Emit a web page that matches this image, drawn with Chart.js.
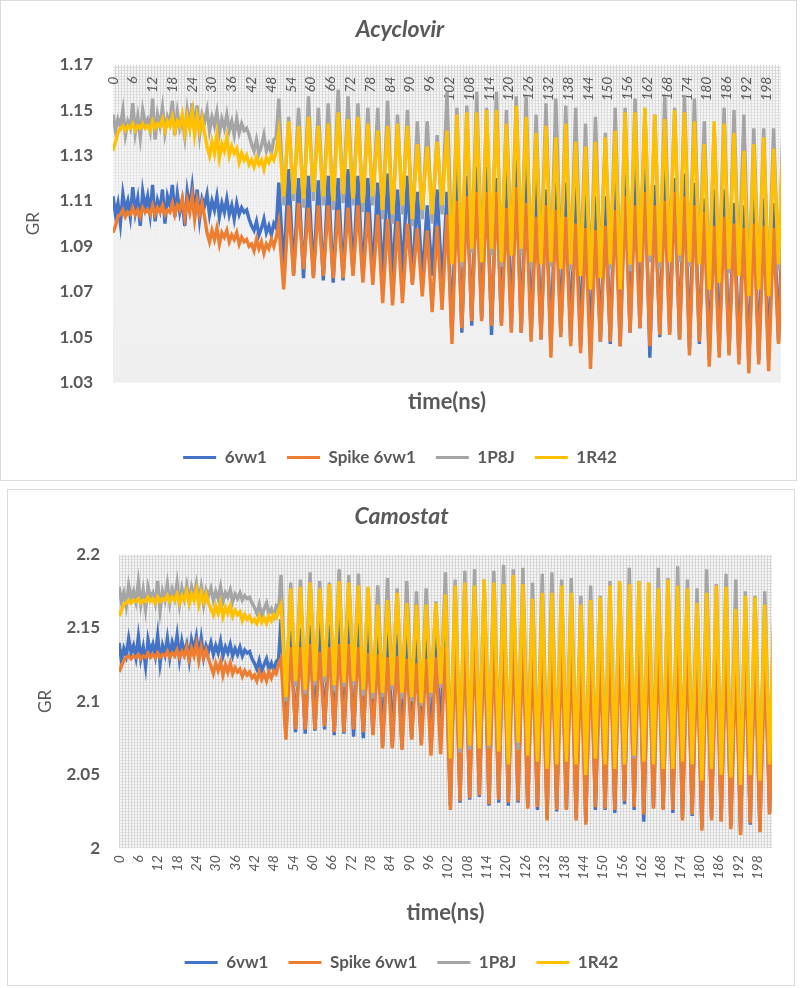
<!DOCTYPE html>
<html>
<head>
<meta charset="utf-8">
<script src="https://cdn.jsdelivr.net/npm/chart.js@4.4.1/dist/chart.umd.min.js"></script>
<style>
  html, body { margin: 0; padding: 0; background: #fff; }
  .box { position: absolute; border: 1px solid #d9dde1; background: #fff; }
  #box1 { left: 0; top: 0; width: 795px; height: 479px; }
  #box2 { left: 7px; top: 489px; width: 786px; height: 495px; }
  canvas { display: block; }
</style>
</head>
<body>
<div class="box" id="box1"><canvas id="acyclovir" width="795" height="479"></canvas></div>
<div class="box" id="box2"><canvas id="camostat" width="786" height="495"></canvas></div>
<script>
// time axis: every 0.75 ns up to 49.5 ns, then one value per peak / trough (1.5 ns apart)
const timeNs = [];
for (let t = 0; t <= 49.5; t += 0.75) timeNs.push(t);
for (let t = 50.25; t <= 203.25; t += 1.5) timeNs.push(t);

const seriesNames = ['6vw1', 'Spike 6vw1', '1P8J', '1R42'];
const seriesColors = ['#4472C4', '#ED7D31', '#A5A5A5', '#FFC000'];
const xTickLabels = [0, 6, 12, 18, 24, 30, 36, 42, 48, 54, 60, 66, 72, 78, 84, 90, 96, 102, 108, 114,
  120, 126, 132, 138, 144, 150, 156, 162, 168, 174, 180, 186, 192, 198];
const acyYTicks = [1.03, 1.05, 1.07, 1.09, 1.11, 1.13, 1.15, 1.17];
const camYTicks = [2, 2.05, 2.1, 2.15, 2.2];

// ---- Acyclovir ----
const acyBlue = [
  1.112, 1.104, 1.109, 1.100, 1.113, 1.106, 1.110, 1.103,
  1.116, 1.105, 1.111, 1.099, 1.114, 1.107, 1.112, 1.104,
  1.117, 1.101, 1.110, 1.106, 1.115, 1.100, 1.112, 1.108,
  1.117, 1.103, 1.113, 1.105, 1.110, 1.099, 1.114, 1.107,
  1.116, 1.104, 1.115, 1.102, 1.111, 1.108,
  1.113, 1.104, 1.110, 1.106, 1.112, 1.103, 1.109, 1.105, 1.111,
  1.104, 1.108, 1.102, 1.109, 1.104, 1.107, 1.105, 1.106, 1.102,
  1.099, 1.097, 1.101, 1.095, 1.098, 1.102, 1.096, 1.099, 1.095, 1.100, 1.098,
  1.118, 1.080, 1.124, 1.078, 1.120, 1.076, 1.121, 1.077, 1.119, 1.075, 1.121, 1.074, 1.120, 1.075, 1.124, 1.078,
  1.121, 1.076, 1.120, 1.077, 1.118, 1.075, 1.122, 1.076, 1.115, 1.078, 1.121, 1.074, 1.114, 1.075, 1.108, 1.077,
  1.115, 1.072,
  1.114, 1.050, 1.127, 1.052, 1.121, 1.055, 1.125, 1.058, 1.125, 1.051, 1.120, 1.056, 1.128, 1.054, 1.128, 1.052,
  1.125, 1.050, 1.120, 1.049, 1.115, 1.045, 1.121, 1.052, 1.118, 1.048, 1.124, 1.046, 1.117, 1.042, 1.112, 1.048,
  1.112, 1.047, 1.121, 1.046, 1.122, 1.052, 1.128, 1.054, 1.124, 1.041, 1.117, 1.050, 1.125, 1.052, 1.120, 1.049,
  1.122, 1.045, 1.118, 1.047, 1.111, 1.040, 1.115, 1.044, 1.115, 1.043, 1.109, 1.041, 1.108, 1.038, 1.112, 1.040,
  1.111, 1.040, 1.109, 1.048,
  1.118
];
const acyOrange = [
  1.096, 1.099, 1.103, 1.104, 1.106, 1.103, 1.105, 1.104,
  1.107, 1.104, 1.106, 1.103, 1.107, 1.105, 1.106, 1.104,
  1.108, 1.104, 1.107, 1.105, 1.108, 1.104, 1.106, 1.105,
  1.109, 1.104, 1.108, 1.106, 1.111, 1.103, 1.110, 1.105,
  1.112, 1.102, 1.110, 1.104, 1.109, 1.103,
  1.096, 1.092, 1.097, 1.093, 1.098, 1.091, 1.096, 1.094, 1.097,
  1.092, 1.095, 1.093, 1.096, 1.091, 1.094, 1.092, 1.093, 1.090,
  1.091, 1.088, 1.093, 1.089, 1.092, 1.087, 1.091, 1.089, 1.093, 1.090, 1.094,
  1.100, 1.071, 1.108, 1.077, 1.109, 1.080, 1.107, 1.076, 1.108, 1.077, 1.108, 1.076, 1.106, 1.076, 1.107, 1.077,
  1.108, 1.074, 1.105, 1.073, 1.104, 1.065, 1.102, 1.064, 1.101, 1.065, 1.100, 1.073, 1.098, 1.068, 1.097, 1.061,
  1.099, 1.062,
  1.104, 1.047, 1.110, 1.054, 1.112, 1.057, 1.114, 1.057, 1.114, 1.055, 1.114, 1.055, 1.107, 1.052, 1.116, 1.052,
  1.109, 1.048, 1.103, 1.049, 1.108, 1.041, 1.106, 1.050, 1.103, 1.046, 1.100, 1.043, 1.098, 1.036, 1.097, 1.048,
  1.099, 1.048, 1.106, 1.046, 1.112, 1.052, 1.108, 1.054, 1.114, 1.046, 1.108, 1.051, 1.110, 1.051, 1.114, 1.049,
  1.112, 1.042, 1.108, 1.048, 1.105, 1.037, 1.099, 1.041, 1.103, 1.042, 1.100, 1.038, 1.098, 1.034, 1.100, 1.038,
  1.099, 1.035, 1.098, 1.047,
  1.104
];
const acyGray = [
  1.148, 1.141, 1.146, 1.143, 1.150, 1.139, 1.145, 1.142,
  1.153, 1.140, 1.147, 1.138, 1.150, 1.144, 1.146, 1.141,
  1.155, 1.137, 1.148, 1.143, 1.151, 1.140, 1.147, 1.144,
  1.154, 1.139, 1.149, 1.142, 1.146, 1.138, 1.150, 1.143,
  1.153, 1.141, 1.152, 1.139, 1.148, 1.145,
  1.150, 1.141, 1.147, 1.143, 1.149, 1.140, 1.146, 1.142, 1.148,
  1.141, 1.145, 1.139, 1.146, 1.140, 1.144, 1.141, 1.142, 1.139,
  1.135, 1.132, 1.137, 1.131, 1.134, 1.139, 1.132, 1.135, 1.131, 1.137, 1.138,
  1.155, 1.108, 1.147, 1.110, 1.151, 1.107, 1.156, 1.110, 1.151, 1.108, 1.153, 1.106, 1.159, 1.109, 1.156, 1.108,
  1.153, 1.105, 1.151, 1.108, 1.151, 1.102, 1.154, 1.100, 1.148, 1.104, 1.150, 1.099, 1.145, 1.102, 1.145, 1.100,
  1.139, 1.104,
  1.158, 1.085, 1.151, 1.081, 1.152, 1.087, 1.158, 1.085, 1.151, 1.086, 1.158, 1.081, 1.150, 1.088, 1.156, 1.086,
  1.156, 1.080, 1.148, 1.084, 1.153, 1.081, 1.155, 1.083, 1.152, 1.079, 1.151, 1.080, 1.144, 1.074, 1.147, 1.079,
  1.140, 1.080, 1.151, 1.075, 1.151, 1.079, 1.155, 1.085, 1.151, 1.083, 1.148, 1.080, 1.156, 1.086, 1.151, 1.083,
  1.156, 1.081, 1.155, 1.084, 1.145, 1.074, 1.143, 1.077, 1.151, 1.078, 1.150, 1.080, 1.148, 1.072, 1.142, 1.074,
  1.142, 1.071, 1.142, 1.079,
  1.150
];
const acyYellow = [
  1.132, 1.136, 1.140, 1.142, 1.143, 1.141, 1.143, 1.142,
  1.144, 1.141, 1.143, 1.142, 1.144, 1.142, 1.143, 1.141,
  1.145, 1.142, 1.144, 1.143, 1.146, 1.141, 1.145, 1.143,
  1.147, 1.141, 1.145, 1.143, 1.148, 1.140, 1.147, 1.142,
  1.149, 1.139, 1.147, 1.141, 1.146, 1.140,
  1.134, 1.130, 1.136, 1.131, 1.139, 1.129, 1.135, 1.132, 1.138,
  1.130, 1.134, 1.131, 1.133, 1.127, 1.131, 1.128, 1.130, 1.126,
  1.128, 1.125, 1.129, 1.126, 1.128, 1.124, 1.129, 1.127, 1.130, 1.128, 1.132,
  1.140, 1.112, 1.145, 1.113, 1.143, 1.111, 1.147, 1.114, 1.143, 1.112, 1.144, 1.110, 1.149, 1.113, 1.146, 1.111,
  1.147, 1.109, 1.144, 1.112, 1.141, 1.106, 1.143, 1.104, 1.144, 1.108, 1.143, 1.102, 1.135, 1.106, 1.134, 1.104,
  1.136, 1.108,
  1.141, 1.082, 1.148, 1.083, 1.149, 1.089, 1.149, 1.083, 1.150, 1.089, 1.150, 1.083, 1.144, 1.086, 1.152, 1.089,
  1.147, 1.083, 1.140, 1.082, 1.143, 1.083, 1.138, 1.080, 1.144, 1.082, 1.136, 1.077, 1.134, 1.071, 1.136, 1.076,
  1.138, 1.082, 1.141, 1.071, 1.149, 1.082, 1.149, 1.083, 1.151, 1.086, 1.148, 1.083, 1.146, 1.083, 1.150, 1.086,
  1.149, 1.083, 1.145, 1.082, 1.135, 1.071, 1.145, 1.074, 1.144, 1.080, 1.140, 1.077, 1.132, 1.068, 1.135, 1.071,
  1.138, 1.068, 1.133, 1.082,
  1.142
];

// ---- Camostat ----
const camBlue = [
  2.140, 2.128, 2.136, 2.131, 2.143, 2.133, 2.138, 2.130,
  2.144, 2.129, 2.137, 2.124, 2.142, 2.134, 2.139, 2.131,
  2.145, 2.126, 2.138, 2.132, 2.143, 2.130, 2.140, 2.134,
  2.145, 2.129, 2.141, 2.133, 2.139, 2.128, 2.142, 2.135,
  2.144, 2.131, 2.143, 2.130, 2.138, 2.134,
  2.140, 2.132, 2.138, 2.133, 2.141, 2.131, 2.137, 2.133, 2.139,
  2.131, 2.136, 2.132, 2.137, 2.131, 2.135, 2.133, 2.134, 2.129,
  2.126, 2.122, 2.128, 2.121, 2.125, 2.129, 2.122, 2.126, 2.121, 2.127, 2.129,
  2.156, 2.078, 2.148, 2.079, 2.150, 2.078, 2.152, 2.080, 2.157, 2.081, 2.152, 2.077, 2.159, 2.078, 2.157, 2.076,
  2.154, 2.075, 2.150, 2.078, 2.152, 2.070, 2.157, 2.070, 2.146, 2.069, 2.154, 2.075, 2.150, 2.072, 2.148, 2.066,
  2.157, 2.074,
  2.154, 2.029, 2.161, 2.031, 2.159, 2.033, 2.163, 2.035, 2.159, 2.029, 2.166, 2.031, 2.168, 2.029, 2.166, 2.031,
  2.163, 2.028, 2.152, 2.026, 2.157, 2.021, 2.161, 2.025, 2.154, 2.027, 2.157, 2.021, 2.146, 2.018, 2.150, 2.026,
  2.150, 2.026, 2.161, 2.024, 2.159, 2.030, 2.163, 2.026, 2.161, 2.018, 2.161, 2.028, 2.166, 2.027, 2.159, 2.024,
  2.161, 2.021, 2.157, 2.022, 2.148, 2.014, 2.159, 2.021, 2.157, 2.019, 2.157, 2.015, 2.146, 2.011, 2.150, 2.016,
  2.150, 2.012, 2.146, 2.024,
  2.150
];
const camOrange = [
  2.120, 2.124, 2.128, 2.130, 2.131, 2.129, 2.131, 2.130,
  2.132, 2.129, 2.131, 2.130, 2.133, 2.130, 2.132, 2.130,
  2.133, 2.130, 2.132, 2.131, 2.134, 2.130, 2.133, 2.131,
  2.135, 2.130, 2.134, 2.131, 2.137, 2.129, 2.136, 2.131,
  2.139, 2.128, 2.137, 2.130, 2.135, 2.129,
  2.124, 2.119, 2.126, 2.121, 2.127, 2.118, 2.125, 2.120, 2.126,
  2.119, 2.123, 2.120, 2.122, 2.117, 2.121, 2.118, 2.120, 2.116,
  2.118, 2.114, 2.120, 2.115, 2.119, 2.114, 2.120, 2.116, 2.121, 2.119, 2.125,
  2.129, 2.074, 2.137, 2.081, 2.137, 2.081, 2.139, 2.081, 2.134, 2.083, 2.137, 2.079, 2.139, 2.079, 2.139, 2.081,
  2.137, 2.079, 2.133, 2.077, 2.132, 2.068, 2.130, 2.068, 2.131, 2.067, 2.129, 2.074, 2.126, 2.070, 2.129, 2.063,
  2.130, 2.064,
  2.137, 2.026, 2.141, 2.032, 2.146, 2.034, 2.143, 2.036, 2.146, 2.030, 2.143, 2.033, 2.148, 2.031, 2.146, 2.032,
  2.143, 2.027, 2.134, 2.028, 2.137, 2.019, 2.139, 2.026, 2.137, 2.026, 2.137, 2.019, 2.129, 2.016, 2.132, 2.028,
  2.130, 2.027, 2.139, 2.026, 2.141, 2.032, 2.146, 2.028, 2.143, 2.023, 2.143, 2.027, 2.141, 2.026, 2.146, 2.026,
  2.143, 2.019, 2.141, 2.023, 2.132, 2.012, 2.137, 2.019, 2.139, 2.018, 2.139, 2.013, 2.130, 2.009, 2.134, 2.017,
  2.132, 2.011, 2.132, 2.023,
  2.132
];
const camGray = [
  2.178, 2.168, 2.174, 2.165, 2.179, 2.170, 2.175, 2.168,
  2.181, 2.166, 2.176, 2.163, 2.178, 2.171, 2.174, 2.167,
  2.182, 2.162, 2.175, 2.169, 2.180, 2.167, 2.176, 2.170,
  2.181, 2.166, 2.177, 2.170, 2.179, 2.168, 2.178, 2.171,
  2.180, 2.169, 2.178, 2.166, 2.176, 2.172,
  2.177, 2.169, 2.175, 2.170, 2.178, 2.168, 2.174, 2.171, 2.176,
  2.168, 2.173, 2.170, 2.174, 2.169, 2.172, 2.170, 2.171, 2.167,
  2.164, 2.160, 2.166, 2.158, 2.163, 2.167, 2.160, 2.163, 2.158, 2.165, 2.163,
  2.186, 2.100, 2.181, 2.110, 2.183, 2.105, 2.188, 2.111, 2.182, 2.113, 2.181, 2.107, 2.190, 2.110, 2.186, 2.111,
  2.187, 2.104, 2.177, 2.102, 2.179, 2.103, 2.184, 2.108, 2.177, 2.102, 2.182, 2.100, 2.175, 2.097, 2.177, 2.103,
  2.168, 2.109,
  2.188, 2.064, 2.183, 2.065, 2.189, 2.067, 2.190, 2.071, 2.183, 2.068, 2.189, 2.069, 2.193, 2.060, 2.190, 2.067,
  2.191, 2.066, 2.181, 2.062, 2.187, 2.057, 2.188, 2.060, 2.183, 2.062, 2.184, 2.060, 2.172, 2.053, 2.179, 2.063,
  2.172, 2.060, 2.182, 2.058, 2.181, 2.060, 2.191, 2.061, 2.182, 2.062, 2.181, 2.060, 2.191, 2.058, 2.184, 2.057,
  2.192, 2.062, 2.183, 2.059, 2.177, 2.050, 2.190, 2.057, 2.180, 2.053, 2.187, 2.051, 2.183, 2.047, 2.175, 2.053,
  2.172, 2.049, 2.175, 2.060,
  2.172
];
const camYellow = [
  2.158, 2.162, 2.166, 2.167, 2.169, 2.167, 2.169, 2.168,
  2.170, 2.167, 2.169, 2.168, 2.171, 2.168, 2.170, 2.167,
  2.171, 2.168, 2.170, 2.169, 2.172, 2.168, 2.171, 2.169,
  2.173, 2.167, 2.172, 2.169, 2.175, 2.167, 2.173, 2.169,
  2.176, 2.166, 2.174, 2.168, 2.173, 2.167,
  2.163, 2.159, 2.165, 2.160, 2.167, 2.158, 2.164, 2.160, 2.165,
  2.158, 2.162, 2.159, 2.161, 2.155, 2.159, 2.156, 2.158, 2.154,
  2.156, 2.153, 2.158, 2.154, 2.157, 2.153, 2.158, 2.155, 2.159, 2.157, 2.162,
  2.166, 2.103, 2.177, 2.114, 2.178, 2.108, 2.181, 2.114, 2.177, 2.117, 2.180, 2.111, 2.182, 2.113, 2.181, 2.114,
  2.179, 2.108, 2.178, 2.106, 2.166, 2.106, 2.169, 2.111, 2.174, 2.106, 2.167, 2.103, 2.166, 2.099, 2.166, 2.106,
  2.167, 2.112,
  2.173, 2.061, 2.179, 2.068, 2.181, 2.070, 2.179, 2.068, 2.183, 2.070, 2.181, 2.066, 2.180, 2.057, 2.186, 2.072,
  2.180, 2.063, 2.170, 2.059, 2.174, 2.054, 2.174, 2.057, 2.179, 2.059, 2.174, 2.057, 2.166, 2.050, 2.169, 2.061,
  2.171, 2.057, 2.179, 2.054, 2.182, 2.057, 2.180, 2.063, 2.182, 2.059, 2.181, 2.057, 2.177, 2.054, 2.183, 2.054,
  2.179, 2.059, 2.177, 2.057, 2.167, 2.046, 2.174, 2.054, 2.179, 2.050, 2.178, 2.048, 2.163, 2.043, 2.172, 2.050,
  2.171, 2.046, 2.166, 2.057,
  2.170
];

const FONT = 'Lato, "Open Sans", sans-serif';
const TEXT = '#595959';
Chart.defaults.font.family = FONT;
Chart.defaults.color = TEXT;

// small tile used for the fine Excel-like grid texture of the plot area
const meshTile = document.createElement('canvas');
meshTile.width = 3; meshTile.height = 3;
const mt = meshTile.getContext('2d');
mt.fillStyle = '#f6f6f6'; mt.fillRect(0, 0, 3, 3);
mt.fillStyle = '#d6d6d6'; mt.fillRect(0, 0, 1, 3);
mt.fillStyle = '#e0e0e0'; mt.fillRect(1, 0, 2, 1);

const plotBackground = {
  id: 'plotBackground',
  beforeDraw(chart, args, opts) {
    const { ctx, chartArea: a } = chart;
    ctx.save();
    const g = ctx.createLinearGradient(0, a.top, 0, a.bottom);
    g.addColorStop(0, opts.top);
    g.addColorStop(1, opts.bottom);
    ctx.fillStyle = g;
    ctx.fillRect(a.left, a.top, a.width, a.height);
    ctx.fillStyle = ctx.createPattern(meshTile, 'repeat');
    const strips = 40;
    for (let s = 0; s < strips; s++) {
      const y0 = Math.round(a.top + a.height * s / strips);
      const y1 = Math.round(a.top + a.height * (s + 1) / strips);
      ctx.globalAlpha = opts.fade ? Math.max(0, 1 - (s / strips) / opts.fade) : 1;
      ctx.fillRect(a.left, y0, a.width, y1 - y0);
    }
    ctx.restore();
  }
};

// time labels drawn inside the plot, under its top edge (top chart)
const insideTopLabels = {
  id: 'insideTopLabels',
  beforeDatasetsDraw(chart, args, opts) {
    const { ctx, chartArea: a, scales: { x } } = chart;
    ctx.save();
    ctx.font = 'italic 14px ' + FONT;
    ctx.fillStyle = TEXT;
    ctx.textAlign = 'right';
    ctx.textBaseline = 'middle';
    opts.labels.forEach(v => {
      ctx.save();
      ctx.translate(x.getPixelForValue(v), a.top + opts.offset);
      ctx.rotate(-Math.PI / 2);
      ctx.fillText(String(v), 0, 0);
      ctx.restore();
    });
    ctx.restore();
  }
};

function makeDatasets(rows) {
  return rows.map((vals, i) => ({
    label: seriesNames[i],
    data: vals.map((v, j) => ({ x: timeNs[j], y: v })),
    borderColor: seriesColors[i],
    backgroundColor: seriesColors[i],
    borderWidth: 3.4,
    pointRadius: 0,
    tension: 0,
    order: rows.length - i   // last series (1R42) drawn on top
  }));
}

function legendOptions() {
  return {
    position: 'bottom',
    maxHeight: 44,
    labels: {
      boxWidth: 33,
      boxHeight: 3,
      padding: 20,
      color: TEXT,
      font: { family: FONT, size: 17, weight: 'bold' },
      sort: (a, b) => a.datasetIndex - b.datasetIndex,
      generateLabels: chart => Chart.defaults.plugins.legend.labels.generateLabels(chart)
        .map(item => ({ ...item, lineWidth: 0 }))
    }
  };
}

function titleOptions(text, padding) {
  return {
    display: true, text, color: TEXT, padding,
    font: { family: FONT, size: 23, style: 'italic', weight: 'bold' }
  };
}

function yAxis(min, max, tickValues, fmt, width, tickPad) {
  return {
    min, max,
    afterBuildTicks: s => { s.ticks = tickValues.map(v => ({ value: v })); },
    afterFit: s => { s.width = width; },
    grid: { display: false, drawTicks: false },
    border: { display: false },
    ticks: { callback: fmt, color: TEXT, padding: tickPad, font: { family: FONT, size: 17, weight: 'bold' } },
    title: { display: true, text: 'GR', color: TEXT, font: { family: FONT, size: 17 } }
  };
}

function xTitle(padding) {
  return { display: true, text: 'time(ns)', color: TEXT, padding, font: { family: FONT, size: 22, weight: 'bold' } };
}

new Chart(document.getElementById('acyclovir'), {
  type: 'line',
  data: { datasets: makeDatasets([acyBlue, acyOrange, acyGray, acyYellow]) },
  options: {
    responsive: false,
    animation: false,
    devicePixelRatio: 1,
    layout: { padding: { left: 18, right: 15, top: 0, bottom: 7 } },
    plugins: {
      title: titleOptions('Acyclovir', { top: 15, bottom: 21 }),
      legend: legendOptions(),
      tooltip: { enabled: false },
      plotBackground: { top: '#f5f5f5', bottom: '#efefef', fade: 0.6 },
      insideTopLabels: { labels: xTickLabels, offset: 12 }
    },
    scales: {
      x: {
        type: 'linear', min: 0, max: 202.5,
        grid: { display: false, drawTicks: false },
        border: { display: false },
        ticks: { display: false },
        title: xTitle({ top: 6, bottom: 14 })
      },
      y: yAxis(1.03, 1.17, acyYTicks, v => v.toFixed(2), 94, 20)
    }
  },
  plugins: [plotBackground, insideTopLabels]
});

new Chart(document.getElementById('camostat'), {
  type: 'line',
  data: { datasets: makeDatasets([camBlue, camOrange, camGray, camYellow]) },
  options: {
    responsive: false,
    animation: false,
    devicePixelRatio: 1,
    layout: { padding: { left: 23, right: 22, top: 0, bottom: 7 } },
    plugins: {
      title: titleOptions('Camostat', { top: 13, bottom: 24 }),
      legend: legendOptions(),
      tooltip: { enabled: false },
      plotBackground: { top: '#f4f4f4', bottom: '#f0f0f0', fade: 0 }
    },
    scales: {
      x: {
        type: 'linear', min: 0, max: 202.5,
        afterBuildTicks: s => { s.ticks = xTickLabels.map(v => ({ value: v })); },
        grid: { display: false, drawTicks: false },
        border: { display: false },
        ticks: {
          autoSkip: false, minRotation: 90, maxRotation: 90, padding: 7,
          color: TEXT, font: { family: FONT, size: 14, style: 'italic' }
        },
        title: xTitle({ top: 13, bottom: 8 })
      },
      y: yAxis(2, 2.2, camYTicks, v => String(v), 88, 19)
    }
  },
  plugins: [plotBackground]
});
</script>
</body>
</html>
